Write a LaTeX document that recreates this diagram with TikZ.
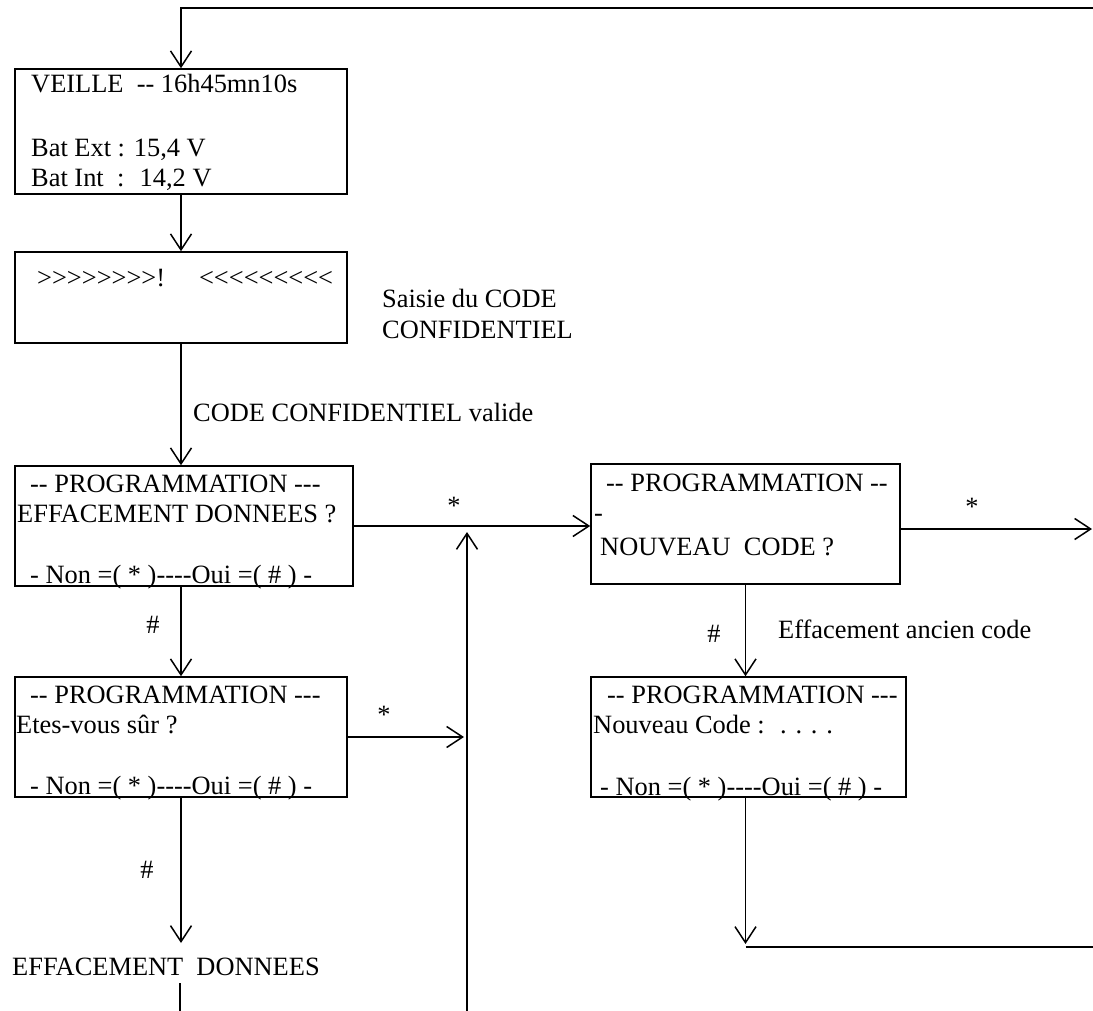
\documentclass[tikz,border=0pt]{standalone}
\usepackage{fontspec}
\newfontfamily\diafont{Liberation Serif}
\usetikzlibrary{arrows.meta}
\begin{document}
\begin{tikzpicture}[x=1pt,y=-1pt,
  screen/.style={draw, line width=1.5pt, inner sep=0pt, rectangle},
  txt/.style={font=\diafont\fontsize{26.4}{30}\selectfont, inner sep=0pt, anchor=base west},
  lbl/.style={font=\diafont\fontsize{26.4}{30}\selectfont, inner sep=0pt, anchor=base},
  link/.style={line width=1.5pt},
  arr/.style={link, -{Straight Barb[length=16pt,width=21pt,line width=1.5pt]}}]
\useasboundingbox (0,0) rectangle (1093,1011);

% screens
\node[screen, minimum width=332pt, minimum height=125pt] (veille) at (181,131.5) {};
\node[screen, minimum width=332pt, minimum height=91pt]  (saisie) at (181,297.5) {};
\node[screen, minimum width=338pt, minimum height=120pt] (effq)   at (184,526) {};
\node[screen, minimum width=309pt, minimum height=120pt] (nouv)   at (745.5,524) {};
\node[screen, minimum width=332pt, minimum height=120pt] (sure)   at (181,737) {};
\node[screen, minimum width=315pt, minimum height=120pt] (nc)     at (748.5,737) {};

% screen texts
\node[txt] (v1) at (31,93)  {VEILLE~ -- 16h45mn10s};
\node[txt] (v2) at (31,157) {Bat Ext : 15,4 V};
\node[txt] (v3) at (31,187) {Bat Int~ :~ 14,2 V};

\node[txt] (c1) at (37,287) {>>>>>>>>!\hspace{34pt}<<<<<<<<<};

\node[txt] (e1) at (30,492) {-- PROGRAMMATION ---};
\node[txt] (e2) at (17,522) {EFFACEMENT DONNEES ?};
\node[txt] (e3) at (30,583) {- Non =( * )----Oui =( \# ) -};

\node[txt] (n1) at (606,491) {-- PROGRAMMATION --};
\node[txt] (n2) at (594,521) {-};
\node[txt] (n3) at (600,555) {NOUVEAU~ CODE ?};

\node[txt] (s1) at (30,703) {-- PROGRAMMATION ---};
\node[txt] (s2) at (16,733) {Etes-vous sûr ?};
\node[txt] (s3) at (30,794) {- Non =( * )----Oui =( \# ) -};

\node[txt] (k1) at (607,703) {-- PROGRAMMATION ---};
\node[txt] (k2) at (593,733) {Nouveau Code :~ . . . .};
\node[txt] (k3) at (600,795) {- Non =( * )----Oui =( \# ) -};

% free texts
\node[txt] (saisieA) at (382,308) {Saisie du CODE};
\node[txt] (saisieB) at (382,338) {CONFIDENTIEL};
\node[txt] (valide)  at (193,421) {CODE CONFIDENTIEL valide};
\node[txt] (effd)    at (12,975)  {EFFACEMENT~ DONNEES};
\node[txt] (ancien)  at (778,638) {Effacement ancien code};

% key labels
\node[lbl] (st1) at (454,514) {*};
\node[lbl] (st2) at (384,723) {*};
\node[lbl] (st3) at (972,515) {*};
\node[lbl] (hs1) at (153,633) {\#};
\node[lbl] (hs2) at (147,878) {\#};
\node[lbl] (hs3) at (714,642) {\#};

% loose ends
\coordinate (topR)   at (1093,8);
\coordinate (retBot) at (467,1011);
\coordinate (retTop) at (467,532);
\coordinate (outR)   at (1092,529);
\coordinate (effEnd) at (181,943);
\coordinate (effTop) at (180,983);
\coordinate (effBot) at (180,1011);
\coordinate (ncEnd)  at (745.5,944);
\coordinate (botL)   at (745.5,947);
\coordinate (botR)   at (1093,947);

% connectors
\draw[arr] (topR) -| (veille.north);
\draw[arr] (veille.south) -- (saisie.north);
\draw[arr] (saisie.south) -- (saisie.south |- effq.north);
\draw[arr] (effq.east) -- (effq.east -| nouv.west);
\draw[arr] (retBot) -- (retTop);
\draw[arr] (effq.south -| sure.north) -- (sure.north);
\draw[arr, shorten >=3pt] (sure.east) -- (sure.east -| retBot);
\draw[arr] (sure.south) -- (effEnd);
\draw[link] (effTop) -- (effBot);
\draw[arr] (nouv.east |- outR) -- (outR);
\draw[arr] (nouv.south) -- (nouv.south |- nc.north);
\draw[arr] (nc.south -| ncEnd) -- (ncEnd);
\draw[link] (botL) -- (botR);
\end{tikzpicture}
\end{document}
